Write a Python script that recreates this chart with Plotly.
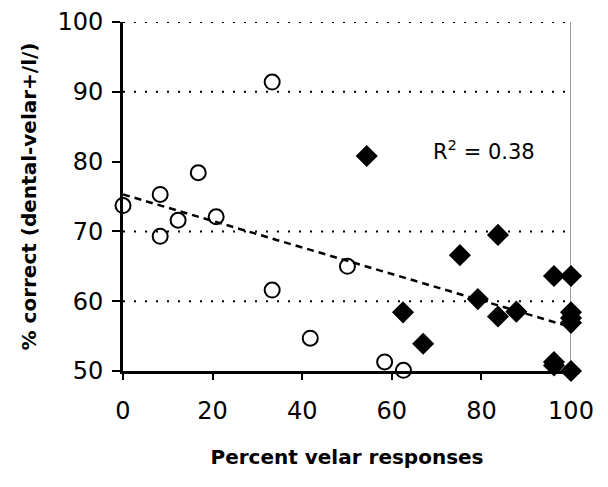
import plotly.graph_objects as go

# Open circles (one group)
circle_x = [0, 8.3, 8.3, 12.3, 16.8, 20.8, 33.3, 33.3, 41.8, 50.1, 58.4, 62.6]
circle_y = [73.7, 75.3, 69.3, 71.6, 78.4, 72.1, 91.4, 61.6, 54.7, 65.0, 51.3, 50.1]

# Filled diamonds (other group)
diamond_x = [54.4, 62.5, 67.0, 75.2, 79.2, 83.7, 83.7, 87.8, 96.2, 100, 96.2, 96.2, 100, 100, 100, 100]
diamond_y = [80.8, 58.4, 53.9, 66.6, 60.3, 57.8, 69.5, 58.5, 63.6, 63.6, 51.3, 50.8, 58.4, 57.6, 56.9, 50.0]

# Linear trend line endpoints
trend_x = [0, 100]
trend_y = [75.3, 56.3]

grid_y = [60, 70, 90, 100]
x_ticks = [0, 20, 40, 60, 80, 100]
y_ticks = [50, 60, 70, 80, 90, 100]
r2_text = "R<sup>2</sup> = 0.38"

fig = go.Figure()

fig.add_trace(go.Scatter(
    x=trend_x, y=trend_y, mode="lines",
    line=dict(color="black", width=2.5, dash="7px,5px"),
    hoverinfo="skip", cliponaxis=False,
))
fig.add_trace(go.Scatter(
    x=circle_x, y=circle_y, mode="markers",
    marker=dict(symbol="circle-open", size=15, color="black", line=dict(width=2)),
    cliponaxis=False,
))
fig.add_trace(go.Scatter(
    x=diamond_x, y=diamond_y, mode="markers",
    marker=dict(symbol="diamond", size=17, color="black"),
    cliponaxis=False,
))

shapes = []
for gy in grid_y:
    shapes.append(dict(type="line", xref="x", yref="y", x0=0, x1=100, y0=gy, y1=gy,
                       line=dict(color="black", width=2, dash="2px,9px"), layer="below"))
shapes.append(dict(type="line", xref="x", yref="y", x0=100, x1=100, y0=50, y1=100,
                   line=dict(color="#777777", width=1.5), layer="below"))
fig.update_layout(shapes=shapes)

fig.add_annotation(x=80.5, y=81.7, xref="x", yref="y", text=r2_text, showarrow=False,
                   font=dict(family="DejaVu Sans", size=21, color="black"))

fig.update_layout(
    width=600, height=479,
    margin=dict(l=115, r=37, t=14, b=116, autoexpand=False),
    paper_bgcolor="white", plot_bgcolor="white",
    showlegend=False,
    font=dict(family="DejaVu Sans", color="black"),
)
fig.update_xaxes(
    range=[0, 100], tickvals=x_ticks, showgrid=False, zeroline=False,
    showline=True, linecolor="black", linewidth=3,
    ticks="outside", ticklen=6, tickwidth=1.5, tickcolor="black",
    ticklabelstandoff=10,
    tickfont=dict(family="DejaVu Sans", size=24, color="black"),
    title=dict(text="<b>Percent velar responses</b>", font=dict(family="DejaVu Sans", size=20), standoff=27),
)
fig.update_yaxes(
    range=[50, 100], tickvals=y_ticks, showgrid=False, zeroline=False,
    showline=True, linecolor="black", linewidth=3,
    ticks="outside", ticklen=8, tickwidth=2, tickcolor="black",
    ticklabelstandoff=4,
    tickfont=dict(family="DejaVu Sans", size=24, color="black"),
    title=dict(text="<b>% correct (dental-velar+/l/)</b>", font=dict(family="DejaVu Sans", size=20), standoff=16),
)

fig.write_html("out.html")
